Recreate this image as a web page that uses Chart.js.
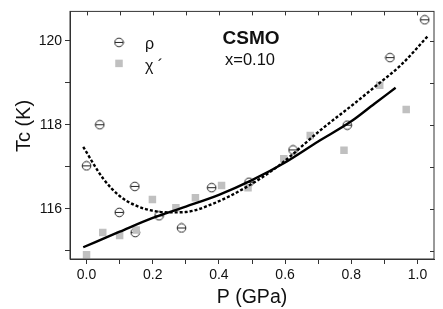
<!DOCTYPE html>
<html>
<head>
<meta charset="utf-8">
<script src="https://cdn.jsdelivr.net/npm/chart.js@4"></script>
<style>
  html, body { margin: 0; padding: 0; background: #fff; }
</style>
</head>
<body>
<canvas id="tcChart" width="443" height="309"></canvas>
<script>
// measured points, rho (open circles)
const rhoP  = [0.0, 0.04, 0.099, 0.146, 0.147, 0.219, 0.287, 0.378, 0.491, 0.624, 0.788, 0.917, 1.022];
const rhoTc = [117.02, 118.0, 115.91, 116.53, 115.43, 115.83, 115.54, 116.50, 116.63, 117.40, 117.99, 119.60, 120.50];

// measured points, chi' (grey squares)
const chiP  = [0.0, 0.049, 0.10, 0.15, 0.199, 0.27, 0.329, 0.408, 0.488, 0.596, 0.676, 0.778, 0.886, 0.966];
const chiTc = [114.90, 115.43, 115.36, 115.49, 116.22, 116.02, 116.26, 116.55, 116.50, 117.19, 117.74, 117.39, 118.94, 118.36];

// solid fit curve
const fitChiP  = [-0.01, 0.10, 0.20, 0.30, 0.40, 0.50, 0.60, 0.70, 0.80, 0.87, 0.934];
const fitChiTc = [115.08, 115.45, 115.78, 116.05, 116.33, 116.68, 117.10, 117.60, 118.08, 118.50, 118.88];

// dotted fit curve
const fitRhoP  = [-0.01, 0.05, 0.10, 0.15, 0.20, 0.25, 0.30, 0.38, 0.48, 0.58, 0.71, 0.81, 0.88, 0.95, 1.03];
const fitRhoTc = [117.47, 116.72, 116.30, 116.07, 115.95, 115.91, 115.92, 116.11, 116.50, 117.02, 117.89, 118.51, 118.96, 119.42, 120.10];

const xTicks = [0, 0.1, 0.2, 0.3, 0.4, 0.5, 0.6, 0.7, 0.8, 0.9, 1.0];
const yTicks = [115, 116, 117, 118, 119, 120];

const FONT = "'Liberation Sans', Arial, sans-serif";
const AXIS = '#333';

const toXY = (xs, ys) => xs.map((x, i) => ({ x: x, y: ys[i] }));

// circle with a bar through it
const circleMark = (() => {
  const c = document.createElement('canvas');
  c.width = 11; c.height = 11;
  const g = c.getContext('2d');
  g.strokeStyle = '#222';
  g.lineWidth = 1;
  g.beginPath();
  g.arc(5.5, 5.5, 4.3, 0, Math.PI * 2);
  g.stroke();
  g.beginPath();
  g.moveTo(1.2, 5.5);
  g.lineTo(9.8, 5.5);
  g.stroke();
  return c;
})();

// box frame, inward ticks on top/right, legend and labels
const decorations = {
  id: 'decorations',
  afterDraw(chart) {
    const { ctx, chartArea: a, scales } = chart;
    ctx.save();
    ctx.strokeStyle = AXIS;
    ctx.lineWidth = 1;
    ctx.strokeRect(a.left, a.top, a.right - a.left, a.bottom - a.top);
    ctx.beginPath();
    xTicks.forEach(v => {
      const px = Math.round(scales.x.getPixelForValue(v)) + 0.5;
      ctx.moveTo(px, a.top);
      ctx.lineTo(px, a.top + 4);
    });
    yTicks.forEach(v => {
      const py = Math.round(scales.y.getPixelForValue(v)) + 0.5;
      ctx.moveTo(a.right, py);
      ctx.lineTo(a.right - 4, py);
    });
    ctx.stroke();

    // legend
    const lx = a.left + 49;
    ctx.drawImage(circleMark, lx - 5.5, a.top + 31 - 5.5);
    ctx.fillStyle = '#c0c0c0';
    ctx.fillRect(lx - 3.75, a.top + 52 - 3.75, 7.5, 7.5);
    ctx.fillStyle = '#111';
    ctx.font = '16px ' + FONT;
    ctx.textBaseline = 'middle';
    ctx.textAlign = 'left';
    ctx.fillText('ρ', lx + 26, a.top + 33);
    ctx.fillText('χ ´', lx + 26, a.top + 55);

    // annotation
    ctx.textAlign = 'center';
    ctx.font = 'bold 19px ' + FONT;
    ctx.fillText('CSMO', 251, a.top + 27);
    ctx.font = '16.5px ' + FONT;
    ctx.fillText('x=0.10', 250, a.top + 49);

    // y axis title
    ctx.translate(24, 126);
    ctx.rotate(-Math.PI / 2);
    ctx.font = '20px ' + FONT;
    ctx.fillText('Tc (K)', 0, 0);
    ctx.restore();
  }
};

new Chart(document.getElementById('tcChart'), {
  type: 'scatter',
  data: {
    datasets: [
      {
        label: 'fit chi',
        data: toXY(fitChiP, fitChiTc),
        showLine: true,
        borderColor: '#000',
        borderWidth: 2.4,
        pointRadius: 0,
        cubicInterpolationMode: 'monotone'
      },
      {
        label: 'fit rho',
        data: toXY(fitRhoP, fitRhoTc),
        showLine: true,
        borderColor: '#000',
        borderWidth: 2.4,
        borderDash: [3, 2],
        pointRadius: 0,
        cubicInterpolationMode: 'monotone'
      },
      {
        label: "χ´",
        data: toXY(chiP, chiTc),
        pointStyle: 'rect',
        pointRadius: 5.3,
        backgroundColor: '#c0c0c0',
        borderWidth: 0
      },
      {
        label: 'ρ',
        data: toXY(rhoP, rhoTc),
        pointStyle: circleMark,
        pointRadius: 5
      }
    ]
  },
  options: {
    responsive: false,
    animation: false,
    layout: { padding: { top: 6, right: 9, left: 0, bottom: 0 } },
    plugins: {
      legend: { display: false },
      tooltip: { enabled: false }
    },
    scales: {
      x: {
        type: 'linear',
        min: -0.05,
        max: 1.05,
        afterBuildTicks: s => { s.ticks = xTicks.map(v => ({ value: v })); },
        afterFit: s => { s.height = 50; },
        ticks: {
          color: '#111',
          font: { family: FONT, size: 14 },
          padding: 3,
          maxRotation: 0,
          callback: v => (Math.round(v * 10) % 2 === 0 ? v.toFixed(1) : '')
        },
        grid: { drawOnChartArea: false, tickLength: 5, color: AXIS },
        border: { display: true, color: AXIS },
        title: {
          display: true,
          text: 'P (GPa)',
          color: '#111',
          font: { family: FONT, size: 19.5 },
          padding: { top: 0, bottom: 0 }
        }
      },
      y: {
        type: 'linear',
        min: 114.8,
        max: 120.7,
        afterBuildTicks: s => { s.ticks = yTicks.map(v => ({ value: v })); },
        afterFit: s => { s.width = 70; },
        ticks: {
          color: '#111',
          font: { family: FONT, size: 14 },
          padding: 3,
          callback: v => (v % 2 === 0 ? String(v) : '')
        },
        grid: { drawOnChartArea: false, tickLength: 5, color: AXIS },
        border: { display: true, color: AXIS }
      }
    }
  },
  plugins: [decorations]
});
</script>
</body>
</html>
